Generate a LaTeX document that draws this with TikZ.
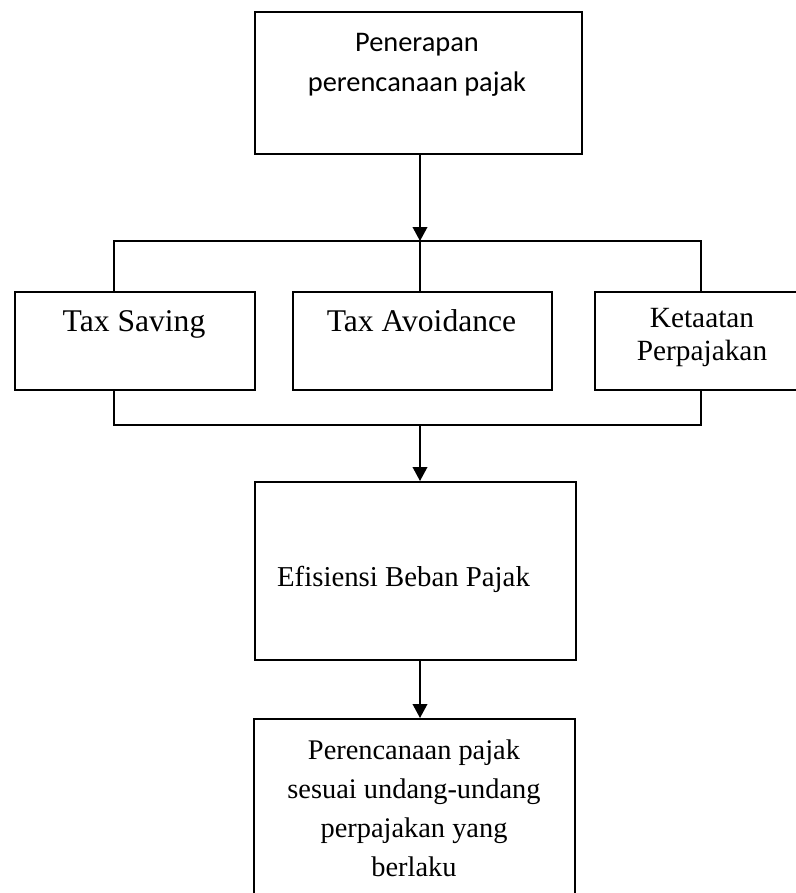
\documentclass[tikz,border=0pt]{standalone}
\usepackage{fontspec}
\setmainfont{Liberation Serif}
\newfontfamily\calibri{Carlito}
\usetikzlibrary{arrows.meta}

\begin{document}
\begin{tikzpicture}[x=0.75pt,y=-0.75pt,
		box/.style={draw=black,line width=1.3pt,inner sep=0pt,anchor=north west},
		conn/.style={draw=black,line width=1.2pt},
		arr/.style={conn,-{Triangle[length=10.5pt,width=11pt]}}]
		\clip (0,0) rectangle (796,893);
		% boxes
		\node [box,line width=1.6pt,minimum width=245.25pt,minimum height=106.5pt] (penerapan) at (254,11) {};
		\node [box,minimum width=180pt,minimum height=73.5pt] (saving) at (14,291) {};
		\node [box,minimum width=194.25pt,minimum height=73.5pt] (avoidance) at (292,291) {};
		\node [box,minimum width=162pt,minimum height=73.5pt] (ketaatan) at (594,291) {};
		\node [box,minimum width=240.75pt,minimum height=133.5pt] (efisiensi) at (254,481) {};
		\node [box,minimum width=240.75pt,minimum height=144pt] (sesuai) at (253,718) {};
		% texts
		\node [align=center,font=\calibri\fontsize{21.3}{30}\selectfont] (penerapantxt) at (417,65) {Penerapan\\perencanaan pajak};
		\node [anchor=base,font=\fontsize{23.7}{28}\selectfont] (savingtxt) at (134,331) {Tax Saving};
		\node [anchor=base,font=\fontsize{23.7}{28}\selectfont] (avoidancetxt) at (421.5,331) {Tax Avoidance};
		\node [align=center,font=\fontsize{22}{24.75}\selectfont] (ketaatantxt) at (702,338) {Ketaatan\\Perpajakan};
		\node [anchor=base,font=\fontsize{21.6}{29}\selectfont] (efisiensitxt) at (403.5,586) {Efisiensi Beban Pajak};
		\node [align=center,font=\fontsize{21.3}{29.3}\selectfont] (sesuaitxt) at (414,808) {Perencanaan pajak\\sesuai undang-undang\\perpajakan yang\\berlaku};
		% connectors
		\coordinate (tl) at (114,241);
		\coordinate (tr) at (701,241);
		\coordinate (bl) at (114,425);
		\coordinate (br) at (701,425);
		\coordinate (bm) at (420,425);
		\draw [arr] (bm |- penerapan.south) -- (bm |- tl);
		\draw [conn] (tl |- saving.north) -- (tl) -- (tr) -- (tr |- ketaatan.north);
		\draw [conn] (avoidance.north -| bm) -- (bm |- tl);
		\draw [conn] (bl |- saving.south) -- (bl) -- (br) -- (br |- ketaatan.south);
		\draw [arr] (bm) -- (bm |- efisiensi.north);
		\draw [arr] (bm |- efisiensi.south) -- (bm |- sesuai.north);
	\end{tikzpicture}
\end{document}
